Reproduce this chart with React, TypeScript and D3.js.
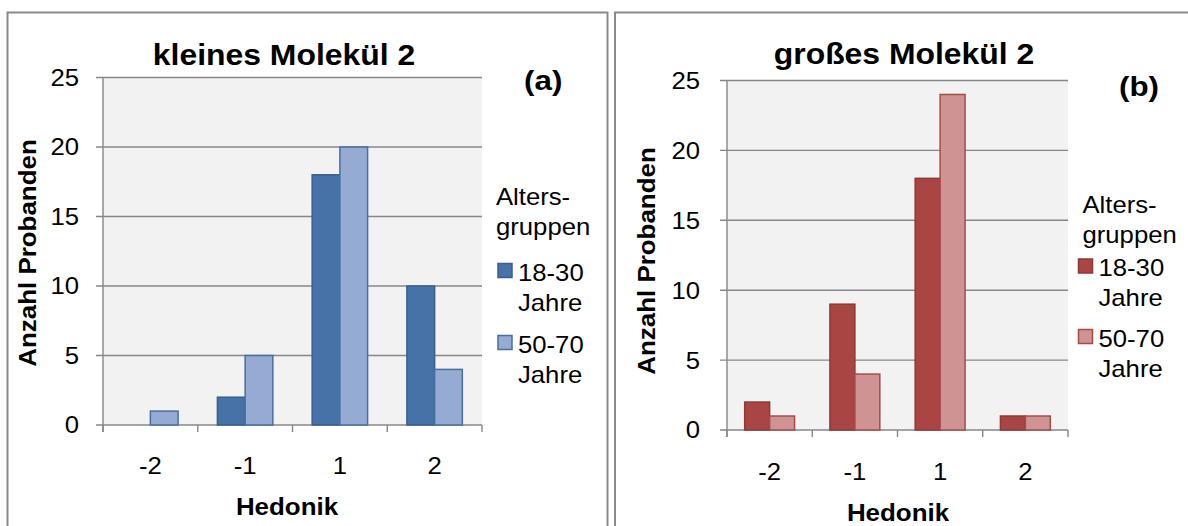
import React from 'react';
import * as d3 from 'd3';

// Hedonik categories and counts per age group
const categories = ['-2', '-1', '1', '2'];
const seriesNames = ['18-30 Jahre', '50-70 Jahre'];
const smallYoung = [0, 2, 18, 10];
const smallOld = [1, 5, 20, 4];
const largeYoung = [2, 9, 18, 1];
const largeOld = [1, 4, 24, 1];
const yTicks = [0, 5, 10, 15, 20, 25];

const FONT = '"Liberation Sans", Arial, Helvetica, sans-serif';
const SX = 1.07;
const GRID = '#878787';

interface TxtProps {
  x: number;
  y: number;
  size: number;
  bold?: boolean;
  anchor?: 'start' | 'middle' | 'end';
  rotate?: number;
  sx?: number;
  dy?: string;
  children: React.ReactNode;
}

function Txt({ x, y, size, bold, anchor = 'start', rotate = 0, sx = SX, dy, children }: TxtProps) {
  return (
    <text
      transform={`translate(${x},${y}) rotate(${rotate}) scale(${sx},1)`}
      textAnchor={anchor}
      dy={dy}
      fontFamily={FONT}
      fontSize={size}
      fontWeight={bold ? 'bold' : 'normal'}
      fill="#000"
    >
      {children}
    </text>
  );
}

interface PanelProps {
  title: string;
  tag: string;
  values: number[][];
  fills: string[];
  strokes: string[];
  frameX: number;
  plot: { x0: number; x1: number; y0: number; y25: number };
  layout: {
    titleX: number;
    titleY: number;
    tagX: number;
    tagY: number;
    yLabelRight: number;
    yTitleX: number;
    yTitleY: number;
    xLabelDy: number;
    xTitleX: number;
    xTitleY: number;
    legX: number;
    legTitleY: number;
    legSwatchX: number;
    legItemY: number[];
  };
}

function Panel({ title, tag, values, fills, strokes, frameX, plot, layout }: PanelProps) {
  const x = d3
    .scaleBand<string>()
    .domain(categories)
    .range([plot.x0, plot.x1])
    .paddingInner(0.415)
    .paddingOuter(0.2075);
  const step = x.step();
  const inner = d3
    .scaleBand<number>()
    .domain(d3.range(values.length))
    .range([0, x.bandwidth()]);
  const y = d3.scaleLinear().domain([0, 25]).range([plot.y0, plot.y25]);
  const boundaries = d3.range(categories.length + 1).map((i) => plot.x0 + i * step);

  return (
    <g>
      <rect x={frameX} y={12.5} width={600} height={600} fill="#fff" stroke="#8a8a8a" strokeWidth={2} />
      <rect
        x={plot.x0}
        y={plot.y25}
        width={plot.x1 - plot.x0}
        height={plot.y0 - plot.y25}
        fill="#f2f2f2"
      />
      {yTicks.map((t) => (
        <line key={t} x1={plot.x0 - 7} x2={plot.x1} y1={y(t)} y2={y(t)} stroke={GRID} strokeWidth={1.4} />
      ))}
      <line x1={plot.x0} x2={plot.x0} y1={plot.y25} y2={plot.y0 + 7} stroke={GRID} strokeWidth={1.4} />
      {boundaries.map((b, i) => (
        <line key={i} x1={b} x2={b} y1={plot.y0} y2={plot.y0 + 7} stroke={GRID} strokeWidth={1.4} />
      ))}
      {values.map((series, si) =>
        series.map((v, ci) =>
          v > 0 ? (
            <rect
              key={`${si}-${ci}`}
              x={(x(categories[ci]) as number) + (inner(si) as number)}
              y={y(v)}
              width={inner.bandwidth()}
              height={y(0) - y(v)}
              fill={fills[si]}
              stroke={strokes[si]}
              strokeWidth={1.5}
            />
          ) : null,
        ),
      )}
      {yTicks.map((t) => (
        <Txt key={t} x={layout.yLabelRight} y={y(t)} size={24} anchor="end" dy="0.35em">
          {t}
        </Txt>
      ))}
      {categories.map((c) => (
        <Txt key={c} x={(x(c) as number) + x.bandwidth() / 2} y={plot.y0 + layout.xLabelDy} size={24} anchor="middle">
          {c}
        </Txt>
      ))}
      <Txt x={layout.titleX} y={layout.titleY} size={29} bold anchor="middle" sx={1.1}>
        {title}
      </Txt>
      <Txt x={layout.tagX} y={layout.tagY} size={28} bold sx={1.12}>
        {tag}
      </Txt>
      <Txt x={layout.xTitleX} y={layout.xTitleY} size={24} bold anchor="middle" sx={1.08}>
        Hedonik
      </Txt>
      <Txt x={layout.yTitleX} y={layout.yTitleY} size={24} bold anchor="middle" rotate={-90} sx={1.08}>
        Anzahl Probanden
      </Txt>
      <Txt x={layout.legX} y={layout.legTitleY} size={24}>
        Alters-
      </Txt>
      <Txt x={layout.legX} y={layout.legTitleY + 30} size={24}>
        gruppen
      </Txt>
      {seriesNames.map((name, si) => {
        const [age, unit] = name.split(' ');
        const by = layout.legItemY[si];
        return (
          <g key={name}>
            <rect
              x={layout.legSwatchX}
              y={by - 17}
              width={14}
              height={14}
              fill={fills[si]}
              stroke={strokes[si]}
              strokeWidth={1.5}
            />
            <Txt x={layout.legSwatchX + 20} y={by} size={24}>
              {age}
            </Txt>
            <Txt x={layout.legSwatchX + 20} y={by + 30} size={24}>
              {unit}
            </Txt>
          </g>
        );
      })}
    </g>
  );
}

export default function App() {
  return (
    <svg
      width={1188}
      height={526}
      style={{ position: 'absolute', left: 0, top: 0, background: '#fff' }}
    >
      <Panel
        title="kleines Molekül 2"
        tag="(a)"
        values={[smallYoung, smallOld]}
        fills={['#4672a8', '#95abd3']}
        strokes={['#3a5f8e', '#4a6e9f']}
        frameX={7.5}
        plot={{ x0: 103, x1: 482, y0: 425, y25: 77.5 }}
        layout={{
          titleX: 284,
          titleY: 65,
          tagX: 524,
          tagY: 90,
          yLabelRight: 79,
          yTitleX: 36,
          yTitleY: 253,
          xLabelDy: 49,
          xTitleX: 287,
          xTitleY: 515,
          legX: 496,
          legTitleY: 205,
          legSwatchX: 498,
          legItemY: [280.5, 352.5],
        }}
      />
      <Panel
        title="großes Molekül 2"
        tag="(b)"
        values={[largeYoung, largeOld]}
        fills={['#a94643', '#d09393']}
        strokes={['#8c3a37', '#a54c49']}
        frameX={615}
        plot={{ x0: 727, x1: 1068, y0: 430, y25: 80.5 }}
        layout={{
          titleX: 904,
          titleY: 64,
          tagX: 1119,
          tagY: 96,
          yLabelRight: 700,
          yTitleX: 655,
          yTitleY: 261,
          xLabelDy: 50,
          xTitleX: 898,
          xTitleY: 521,
          legX: 1082.5,
          legTitleY: 213,
          legSwatchX: 1078.5,
          legItemY: [276, 346.5],
        }}
      />
    </svg>
  );
}
